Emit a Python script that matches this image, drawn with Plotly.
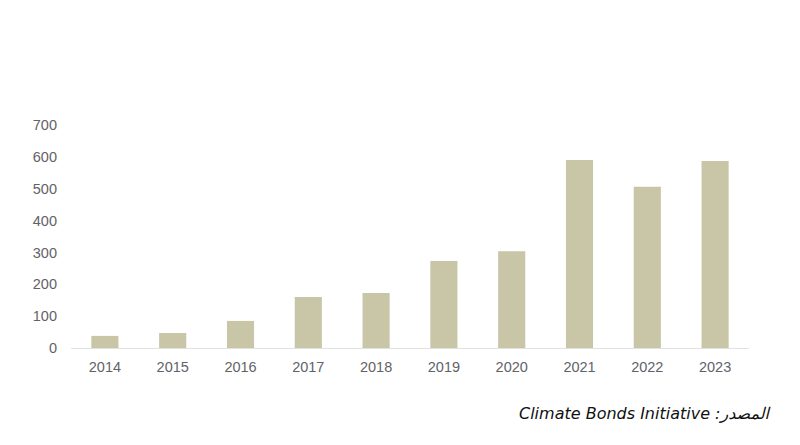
import plotly.graph_objects as go

years = ["2014", "2015", "2016", "2017", "2018", "2019", "2020", "2021", "2022", "2023"]
values = [38, 47, 85, 160, 173, 273, 304, 590, 506, 587]
y_ticks = [0, 100, 200, 300, 400, 500, 600, 700]
source_text = "Climate Bonds Initiative :المصدر"

fig = go.Figure(go.Bar(x=years, y=values, marker=dict(color="#c8c6a7", line=dict(width=0))))

fig.update_layout(
    width=800, height=445,
    margin=dict(l=63, r=59, t=117, b=105),
    plot_bgcolor="white", paper_bgcolor="white",
    bargap=0.6,
    showlegend=False,
    font=dict(family="Liberation Sans, Arial, sans-serif", size=14.5, color="#5f6368"),
)
fig.update_xaxes(type="category", showgrid=False, showline=True, linecolor="#e2e2e2",
                 linewidth=1, ticks="", tickfont=dict(size=14.5, color="#5f6368"),
                 ticklabelstandoff=6)
fig.update_yaxes(range=[0, 700], tickvals=y_ticks, showgrid=False, zeroline=False,
                 showline=False, ticks="", tickfont=dict(size=14.5, color="#5f6368"),
                 ticklabelstandoff=13)
fig.add_annotation(text="<i>" + source_text + "</i>", xref="paper", yref="paper",
                   x=1.035, y=-0.295, xanchor="right", yanchor="middle", showarrow=False,
                   font=dict(family="DejaVu Sans", size=16, color="#111111"))
fig.write_html("out.html")
